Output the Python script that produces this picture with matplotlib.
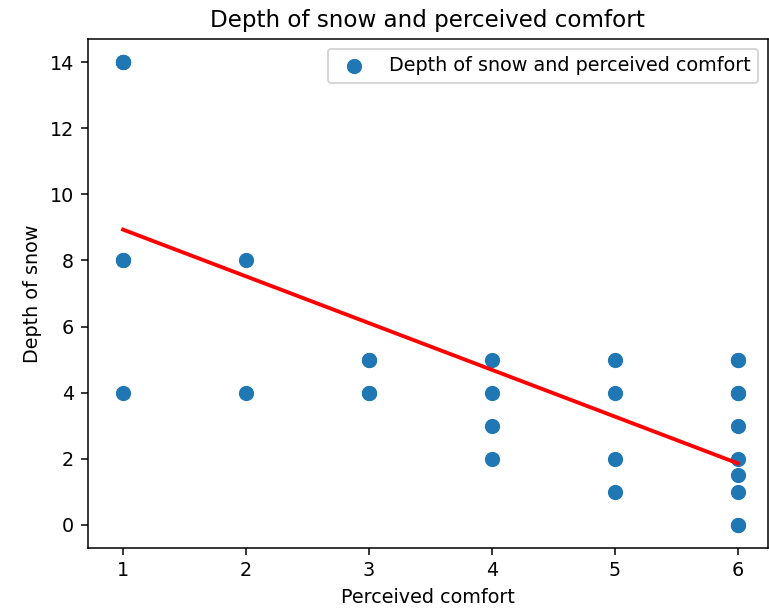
import numpy as np
import matplotlib
matplotlib.use("Agg")
import matplotlib.pyplot as plt

# perceived comfort (x) vs depth of snow (y); repeated rows are overlapping dots
comfort = [1, 1, 1, 1, 1, 1, 2, 2, 3, 3, 3, 3, 4, 4, 4, 4,
           5, 5, 5, 5, 6, 6, 6, 6, 6, 6, 6, 6, 6, 6]
snow = [14, 14, 14, 8, 8, 4, 8, 4, 5, 5, 4, 4, 5, 4, 3, 2,
        5, 4, 2, 1, 5, 5, 4, 4, 3, 2, 1.5, 1, 0, 0]

x = np.array(comfort)
y = np.array(snow)
m, b = np.polyfit(x, y, 1)

dpi = 138
fig = plt.figure(figsize=(769 / dpi, 609 / dpi), dpi=dpi)
ax = fig.add_axes([87.5 / 769, 61 / 609, 680.5 / 769, 509 / 609])

ax.scatter(x, y, s=48, label='Depth of snow and perceived comfort')
ax.plot(x, m * x + b, color='red', linewidth=2)
ax.set_xlim(0.711, 6.244)
ax.set_title('Depth of snow and perceived comfort')
ax.set_xlabel('Perceived comfort')
ax.set_ylabel('Depth of snow')
ax.legend()

fig.savefig('out.png', dpi=dpi)
